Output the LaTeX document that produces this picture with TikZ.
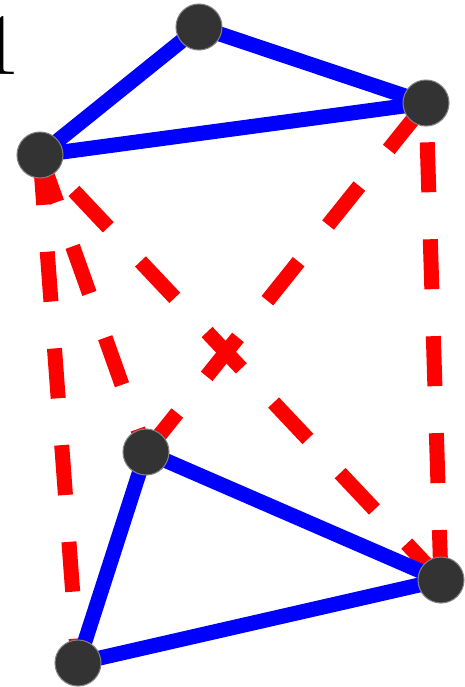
\documentclass[tikz,border=0pt]{standalone}
\usepackage{tikz}
\usetikzlibrary{arrows.meta,positioning}
\definecolor{dotgray}{HTML}{333333}

\begin{document}
\begin{tikzpicture}[x=0.02cm,y=-0.02cm,
  dot/.style={circle,fill=dotgray,draw=gray,line width=0.6pt,minimum size=0.92cm,inner sep=0pt},
  solidedge/.style={blue,line width=0.3cm},
  dashedge/.style={red,line width=0.3cm,dash pattern=on 1cm off 0.94cm}]
  \useasboundingbox (0,0) rectangle (465,687);
  \node[anchor=base,inner sep=0pt] (lbl) at (1,74) {\fontsize{50}{60}\selectfont 1};
  % upper triangle
  \coordinate (t1) at (199,27);
  \coordinate (t2) at (426,103);
  \coordinate (t3) at (40,155);
  % lower triangle
  \coordinate (b1) at (146,452);
  \coordinate (b2) at (441,580);
  \coordinate (b3) at (78,663);
  \foreach \p/\q in {t3/b3,t3/b1,b2/t3,b1/t2,b2/t2}
    \draw[dashedge] (\p) -- (\q);
  \foreach \p/\q in {t1/t2,t1/t3,t2/t3,b1/b2,b1/b3,b2/b3}
    \draw[solidedge] (\p) -- (\q);
  \foreach \n in {t1,t2,t3,b1,b2,b3}
    \node[dot] (n\n) at (\n) {};
\end{tikzpicture}
\end{document}
